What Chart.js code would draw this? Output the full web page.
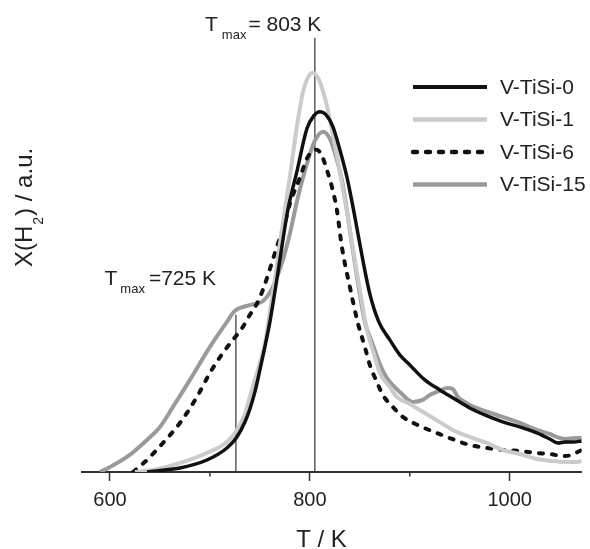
<!DOCTYPE html>
<html>
<head>
<meta charset="utf-8">
<title>TPR V-TiSi</title>
<script src="https://cdn.jsdelivr.net/npm/chart.js@4.4.1/dist/chart.umd.min.js"></script>
<style>
    html, body { margin: 0; padding: 0; background: #fff; }
    #wrap { width: 590px; height: 549px; }
</style>
</head>
<body>
<div id="wrap"><canvas id="tprChart"></canvas></div>
<script>
// series data: temperature (K) and H2 signal (a.u.)
const seriesNames = ['V-TiSi-0', 'V-TiSi-1', 'V-TiSi-6', 'V-TiSi-15'];

const tempV0 = [637, 655, 670, 697, 717, 727, 735, 740, 745, 750, 755, 760, 765, 770, 778, 787, 797, 804, 810, 816,
    823, 830, 837, 845, 852, 860, 869, 880, 890, 900, 915, 930, 945, 960, 975, 993, 1010, 1027, 1040, 1048, 1056, 1064, 1072];
const xhV0 = [0, 2, 4, 12, 24, 35, 50, 63, 80, 102, 125, 150, 180, 212, 262, 300, 343, 356, 360, 357,
    345, 322, 295, 255, 217, 178, 150, 132, 117, 107, 92, 82, 73, 64, 57, 50, 45, 39, 33, 29, 30, 30, 31];

const tempV1 = [625, 643, 670, 697, 717, 727, 735, 740, 745, 750, 755, 760, 765, 770, 775, 780, 787, 793, 798, 803,
    808, 813, 818, 823, 828, 833, 838, 843, 849, 857, 865, 870, 880, 887, 900, 910, 925, 943, 960, 977,
    993, 1010, 1027, 1043, 1055, 1067, 1072];
const xhV1 = [0, 2, 9, 19, 30, 42, 58, 75, 92, 109, 128, 160, 192, 228, 262, 295, 345, 379, 394, 399,
    394, 381, 362, 337, 311, 283, 255, 224, 188, 143, 115, 99, 85, 75, 68, 62, 53, 42, 35, 29,
    22, 18, 13, 11, 10, 10, 11];

const tempV6 = [623, 637, 653, 670, 687, 700, 713, 723, 733, 740, 747, 753, 762, 767, 775, 780, 790, 797, 802, 807,
    812, 817, 822, 827, 832, 840, 848, 855, 860, 867, 873, 883, 893, 910, 927, 945, 960, 977, 993, 1010,
    1027, 1040, 1053, 1062, 1068, 1072];
const xhV6 = [0, 12, 29, 49, 75, 99, 119, 132, 145, 157, 168, 182, 209, 225, 249, 268, 294, 313, 320, 322,
    316, 302, 285, 262, 225, 185, 149, 125, 107, 90, 77, 65, 55, 46, 39, 32, 27, 24, 22, 21,
    19, 18, 16, 17, 20, 22];

const tempV15 = [590, 600, 617, 637, 650, 663, 680, 700, 717, 725, 737, 745, 752, 757, 763, 773, 780, 787, 797, 805,
    813, 820, 827, 832, 837, 842, 848, 855, 862, 870, 877, 890, 903, 913, 920, 927, 938, 943, 948, 955,
    960, 975, 993, 1010, 1027, 1040, 1047, 1055, 1067, 1072];
const xhV15 = [0, 5, 15, 32, 45, 65, 92, 125, 150, 161, 166, 168, 170, 175, 185, 212, 238, 270, 308, 331,
    340, 333, 312, 292, 262, 228, 190, 150, 130, 108, 94, 80, 70, 72, 77, 80, 84, 83, 75, 70,
    67, 61, 55, 49, 42, 38, 35, 33, 34, 34];

// Tmax marker lines (position on the T axis, height of the line)
const tmaxTemps = [805, 726];
const tmaxTops = [434, 157];

const xMajorTicks = [600, 800, 1000];
const xMinorTicks = [700, 900];

const FONT = '"Liberation Sans", Arial, Helvetica, sans-serif';
Chart.defaults.font.family = FONT;

function toPoints(ts, vs) {
    return ts.map((t, i) => ({ x: t, y: vs[i] }));
}

const seriesStyles = [
    { color: '#111111', width: 3.5, dash: [] },
    { color: '#cbcbcb', width: 4, dash: [] },
    { color: '#111111', width: 4, dash: [4, 9], cap: 'round' },
    { color: '#9a9a9a', width: 4, dash: [] }
];

const seriesData = [[tempV0, xhV0], [tempV1, xhV1], [tempV6, xhV6], [tempV15, xhV15]];

const datasets = seriesData.map(([ts, vs], i) => ({
    label: seriesNames[i],
    data: toPoints(ts, vs),
    borderColor: seriesStyles[i].color,
    borderWidth: seriesStyles[i].width,
    borderDash: seriesStyles[i].dash,
    borderCapStyle: seriesStyles[i].cap || 'butt',
    pointRadius: 0,
    cubicInterpolationMode: 'monotone',
    fill: false
}));

// thin vertical Tmax lines
tmaxTemps.forEach((t, i) => {
    datasets.push({
        label: 'tmax' + i,
        data: [{ x: t, y: 0 }, { x: t, y: tmaxTops[i] }],
        borderColor: '#333333',
        borderWidth: 1.2,
        pointRadius: 0,
        fill: false
    });
});

// draws text with a lowered subscript part
function drawParts(ctx, parts, x, y) {
    let cx = x;
    parts.forEach(p => {
        ctx.font = p.size + 'px ' + FONT;
        ctx.fillText(p.text, cx + (p.dx || 0), y + (p.dy || 0));
        cx += ctx.measureText(p.text).width + (p.dx || 0);
    });
}

const decorPlugin = {
    id: 'tprDecor',
    afterDraw(chart) {
        const ctx = chart.ctx;
        const xs = chart.scales.x;
        ctx.save();

        // minor ticks
        ctx.strokeStyle = '#333';
        ctx.lineWidth = 1.5;
        xMinorTicks.forEach(v => {
            const px = xs.getPixelForValue(v);
            ctx.beginPath();
            ctx.moveTo(px, xs.top);
            ctx.lineTo(px, xs.top + 4.5);
            ctx.stroke();
        });

        // legend
        seriesNames.forEach((name, i) => {
            const st = seriesStyles[i];
            const y = 87 + i * 32.5;
            ctx.beginPath();
            ctx.strokeStyle = st.color;
            ctx.lineWidth = st.width + 0.5;
            ctx.setLineDash(st.dash);
            ctx.lineCap = st.cap || 'butt';
            ctx.moveTo(413, y);
            ctx.lineTo(487, y);
            ctx.stroke();
            ctx.setLineDash([]);
            ctx.fillStyle = '#222';
            ctx.font = '21px ' + FONT;
            ctx.textBaseline = 'middle';
            ctx.textAlign = 'left';
            ctx.fillText(name, 500, y + 1);
        });

        // annotations
        ctx.fillStyle = '#222';
        ctx.textBaseline = 'alphabetic';
        drawParts(ctx, [
            { text: 'T', size: 21 },
            { text: 'max', size: 13, dy: 8, dx: 4 },
            { text: '= 803 K', size: 21, dx: 2 }
        ], 205, 30.5);
        drawParts(ctx, [
            { text: 'T', size: 21 },
            { text: 'max', size: 13, dy: 8, dx: 3 },
            { text: '=725 K', size: 21, dx: 4 }
        ], 104.5, 285);

        // x axis title
        ctx.font = '24px ' + FONT;
        ctx.textAlign = 'center';
        ctx.textBaseline = 'middle';
        ctx.fillText('T / K', 321.5, 540);

        // y axis title, rotated
        ctx.translate(32, 267);
        ctx.rotate(-Math.PI / 2);
        ctx.textAlign = 'left';
        ctx.textBaseline = 'alphabetic';
        drawParts(ctx, [
            { text: 'X(H', size: 24 },
            { text: '2', size: 14, dy: 11, dx: 1 },
            { text: ') / a.u.', size: 24, dx: 1 }
        ], 0, 0);

        ctx.restore();
    }
};

new Chart(document.getElementById('tprChart'), {
    type: 'line',
    data: { datasets },
    options: {
        responsive: true,
        maintainAspectRatio: false,
        animation: false,
        layout: { padding: { left: 82, right: 8.3, top: 37.6, bottom: 0 } },
        plugins: {
            legend: { display: false },
            tooltip: { enabled: false }
        },
        scales: {
            x: {
                type: 'linear',
                min: 572,
                max: 1072,
                afterBuildTicks: scale => { scale.ticks = xMajorTicks.map(v => ({ value: v })); },
                afterFit: scale => { scale.height = 77; },
                ticks: {
                    color: '#222',
                    font: { size: 20 },
                    padding: 7,
                    callback: v => String(v)
                },
                grid: {
                    display: true,
                    drawOnChartArea: false,
                    tickLength: 9,
                    tickColor: '#333',
                    tickWidth: 1.5
                },
                border: { display: true, color: '#333', width: 2 }
            },
            y: {
                display: false,
                min: 0,
                max: 434
            }
        }
    },
    plugins: [decorPlugin]
});
</script>
</body>
</html>
